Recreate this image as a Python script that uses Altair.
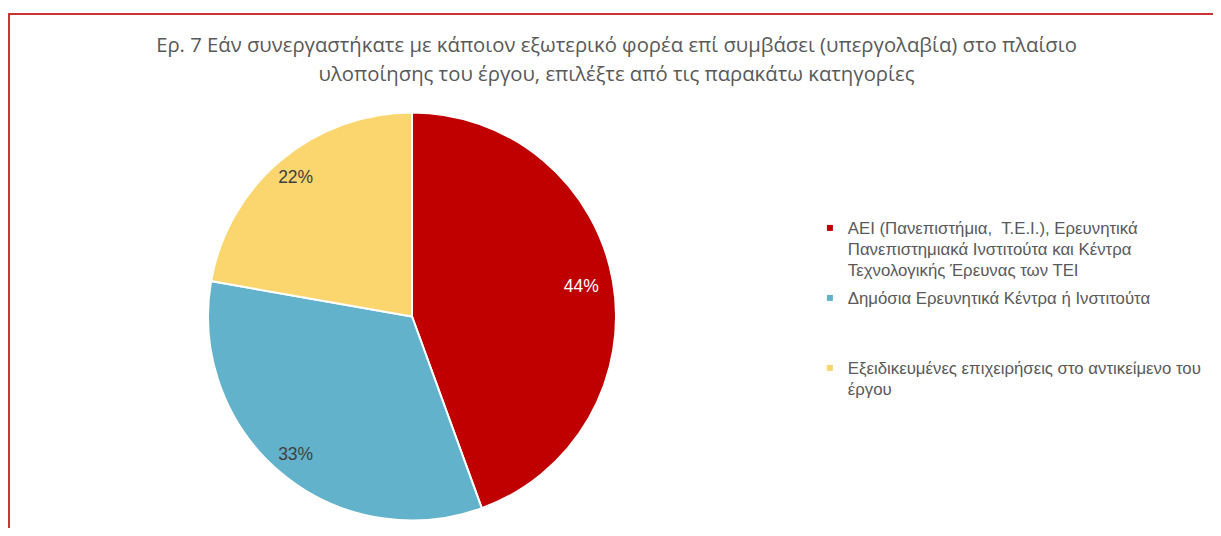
import altair as alt
import pandas as pd

categories = [
    "ΑΕΙ (Πανεπιστήμια,  Τ.Ε.Ι.), Ερευνητικά Πανεπιστημιακά Ινστιτούτα και Κέντρα Τεχνολογικής Έρευνας των ΤΕΙ",
    "Δημόσια Ερευνητικά Κέντρα ή Ινστιτούτα",
    "Εξειδικευμένες επιχειρήσεις στο αντικείμενο του έργου",
]
legend_lines = [
    ["ΑΕΙ (Πανεπιστήμια,\u00a0 Τ.Ε.Ι.), Ερευνητικά", "Πανεπιστημιακά Ινστιτούτα και Κέντρα", "Τεχνολογικής Έρευνας των ΤΕΙ"],
    ["Δημόσια Ερευνητικά Κέντρα ή Ινστιτούτα", " ", " "],
    ["Εξειδικευμένες επιχειρήσεις στο αντικείμενο του", "έργου"],
]
values = [44.4, 33.3, 22.2]
labels = ["44%", "33%", "22%"]
colors = ["#C00000", "#62B2CC", "#FBD56D"]
title_lines = [
    "Ερ. 7 Εάν συνεργαστήκατε με κάποιον εξωτερικό φορέα επί συμβάσει (υπεργολαβία) στο πλαίσιο",
    "υλοποίησης του έργου, επιλέξτε από τις παρακάτω κατηγορίες",
]

df = pd.DataFrame({
    "category": categories,
    "value": values,
    "label": labels,
    "order": list(range(len(categories))),
})

def js_str(s):
    return "'" + s.replace("\\", "\\\\").replace("'", "\\'") + "'"

label_expr = ""
for cat, lines in zip(categories, legend_lines):
    arr = "[" + ",".join(js_str(l) for l in lines) + "]"
    label_expr += f"datum.label == {js_str(cat)} ? {arr} : "
label_expr += "datum.label"

CX, CY, R = 404, 208.5, 204

base = alt.Chart(df)

arc = base.mark_arc(outerRadius=R, stroke="white", strokeWidth=2).encode(
    theta=alt.Theta("value:Q", stack=True),
    color=alt.Color(
        "category:N",
        scale=alt.Scale(domain=categories, range=colors),
        sort=categories,
        legend=alt.Legend(
            title=None,
            orient="none",
            legendX=813.5,
            legendY=111.5,
            symbolType="square",
            symbolSize=36,
            symbolStrokeWidth=0,
            labelExpr=label_expr,
            labelLimit=500,
            labelFont="Liberation Sans",
            labelFontSize=16.8,
            labelColor="#595959",
            labelBaseline="top",
            labelOffset=9.5,
            rowPadding=9,
        ),
    ),
    order=alt.Order("order:Q"),
    x=alt.value(CX),
    y=alt.value(CY),
)

is_first = alt.datum.order == 0

text_in = base.mark_text(radius=172, font="Liberation Sans", fontSize=17.5, fill="white").encode(
    theta=alt.Theta("value:Q", stack=True),
    text="label:N",
    order=alt.Order("order:Q"),
    opacity=alt.condition(is_first, alt.value(1), alt.value(0)),
    x=alt.value(CX),
    y=alt.value(CY),
)

text_out = base.mark_text(radius=181, font="Liberation Sans", fontSize=17.5, fill="#404040").encode(
    theta=alt.Theta("value:Q", stack=True),
    text="label:N",
    order=alt.Order("order:Q"),
    opacity=alt.condition(is_first, alt.value(0), alt.value(1)),
    x=alt.value(CX),
    y=alt.value(CY),
)

border = alt.Chart(alt.Data(values=[{}])).mark_rect(
    fill=None, fillOpacity=0, stroke="#CC3333", strokeWidth=2
).encode(
    x=alt.value(1), x2=alt.value(1400), y=alt.value(-94), y2=alt.value(700)
)

chart = alt.layer(border, arc, text_in, text_out).properties(
    width=1205,
    height=420,
    padding={"left": 0, "top": 100, "right": 0, "bottom": 0},
    autosize=alt.AutoSizeParams(type="none"),
    title=alt.TitleParams(
        text=title_lines,
        anchor="middle",
        frame="group",
        font="Open Sans",
        fontSize=20.3,
        fontWeight="normal",
        color="#595959",
        lineHeight=29,
        dx=6,
        dy=72,
        offset=0,
    ),
).configure(
    view=alt.ViewConfig(stroke=None),
    style={"guide-label": {"lineHeight": 21, "dy": -7}},
)

chart.save("out.html", embed_options={"renderer": "svg", "actions": False})
